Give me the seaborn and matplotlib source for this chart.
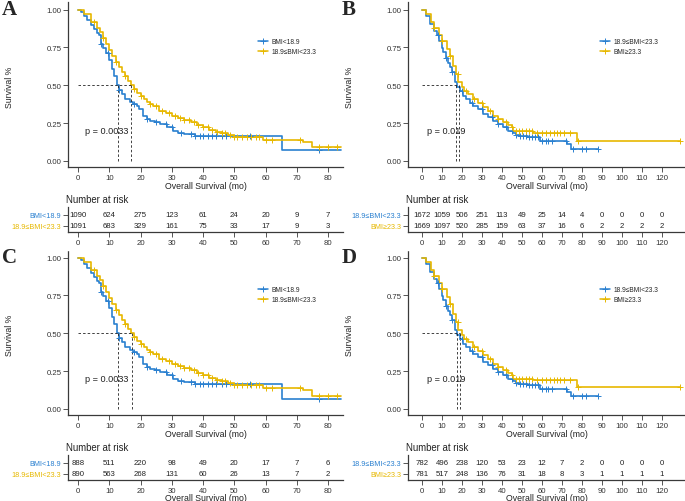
import numpy as np
import seaborn as sns
import matplotlib.pyplot as plt
from matplotlib.lines import Line2D
from matplotlib.patches import Rectangle

sns.set_style("ticks")
plt.rcParams['font.family'] = ['Liberation Sans', 'DejaVu Sans']

# ---------------- data ----------------
blue, yellow = '#2A80D0', '#E7B800'

labels_ac = ["BMI<18.9", "18.9≤BMI<23.3"]
labels_bd = ["18.9≤BMI<23.3", "BMI≥23.3"]

# panel A: step curves (time in months, survival)
a_t1 = [0, 1, 2, 3, 4, 5, 6, 6.8, 7.2, 8, 9, 10, 10.8, 11.5, 12.4, 13, 14, 15, 16.6, 17.5, 18.8,
        19.5, 20.9, 22, 23, 24.5, 26.2, 28.4, 30.5, 32, 34, 36.9, 37.4, 65.2, 84]
a_s1 = [1, 0.985, 0.96, 0.93, 0.9, 0.87, 0.845, 0.83, 0.77, 0.745, 0.71, 0.67, 0.61, 0.56, 0.50, 0.47,
        0.44, 0.41, 0.39, 0.375, 0.365, 0.34, 0.30, 0.28, 0.266, 0.255, 0.245, 0.222, 0.20, 0.183, 0.178,
        0.175, 0.167, 0.073, 0.073]
a_t2 = [0, 2, 4, 6, 7, 8, 9, 10, 11, 12, 13, 14, 15, 16, 17, 18, 19, 20, 21, 22, 23, 24, 26, 28, 30,
        32, 34, 36, 38, 40, 42, 44, 46, 48, 50, 55, 59.3, 72, 74.8, 84]
a_s2 = [1, 0.97, 0.92, 0.88, 0.85, 0.81, 0.77, 0.73, 0.69, 0.655, 0.62, 0.59, 0.56, 0.53, 0.50, 0.475,
        0.45, 0.43, 0.41, 0.39, 0.377, 0.36, 0.332, 0.315, 0.30, 0.285, 0.27, 0.256, 0.24, 0.222, 0.205,
        0.194, 0.182, 0.17, 0.16, 0.157, 0.139, 0.128, 0.09, 0.09]
a_c1 = [7.5, 9.5, 13, 18, 22, 25, 28, 30, 33, 36, 37.5, 39, 40, 41.5, 43, 44, 46, 47.5, 55, 77]
a_c2 = [5, 8, 12, 15, 18, 20, 23, 25, 27, 29, 31, 32.5, 34, 35.5, 37, 38.5, 40, 41.5, 43, 44.5, 46,
        47, 48.5, 50, 51, 52.5, 54, 55.5, 57, 58, 60, 62, 71, 77, 80, 83]
a_med = [12.7, 17.0]

# panel C (matched cohort)
c_t1 = a_t1
c_s1 = a_s1[:-2] + [0.066, 0.066]
c_t2 = a_t2
c_s2 = a_s2[:-2] + [0.085, 0.085]
c_c1 = a_c1
c_c2 = a_c2
c_med = [12.9, 17.4]

# panel B
b_t1 = [0, 2, 4, 6, 7.3, 8.5, 10, 10.7, 12, 13, 14, 15, 16.5, 17.7, 19, 20.7, 22, 24, 25.7, 28, 30.7,
        33, 35.7, 38, 40.7, 43, 45.7, 47, 49, 53, 57.8, 59, 72.3, 74.5, 88]
b_s1 = [1, 0.96, 0.905, 0.86, 0.83, 0.79, 0.745, 0.72, 0.68, 0.65, 0.62, 0.585, 0.52, 0.487, 0.46,
        0.43, 0.41, 0.385, 0.365, 0.34, 0.31, 0.29, 0.266, 0.245, 0.222, 0.2, 0.183, 0.172, 0.163, 0.158,
        0.155, 0.134, 0.113, 0.079, 0.079]
b_t2 = [0, 2, 4.5, 6, 8.7, 10, 12.3, 14, 15.7, 17, 18.2, 19.8, 21, 23, 25.7, 28, 30.7, 33, 35.7, 38,
        40.7, 43, 44.8, 45.7, 55.5, 77.7, 129]
b_s2 = [1, 0.97, 0.92, 0.88, 0.83, 0.79, 0.74, 0.69, 0.63, 0.575, 0.52, 0.487, 0.46, 0.44, 0.41, 0.38,
        0.355, 0.33, 0.30, 0.28, 0.256, 0.24, 0.222, 0.20, 0.183, 0.13, 0.13]
b_c1 = [8, 12, 15, 20, 25, 30, 35, 38, 42, 45, 47, 49, 50.5, 52, 53.5, 55, 56.5, 58, 60, 62, 63, 65,
        72, 75.5, 80, 82, 88]
b_c2 = [6, 10, 14, 18, 22, 26, 30, 34, 38, 42, 45, 47, 48.5, 50, 52, 53.5, 55, 57.5, 60, 62, 64, 66,
        67.5, 69, 71, 74, 78, 129]
b_med = [17.2, 18.3]

# panel D (matched cohort)
d_t1 = b_t1
d_s1 = b_s1[:-2] + [0.084, 0.084]
d_t2 = b_t2
d_s2 = b_s2[:-3] + [0.194, 0.146, 0.146]
d_c1 = b_c1
d_c2 = b_c2
d_med = [17.7, 19.0]

# numbers at risk
risk_t_ac = [0, 10, 20, 30, 40, 50, 60, 70, 80]
risk_t_bd = [0, 10, 20, 30, 40, 50, 60, 70, 80, 90, 100, 110, 120]
a_risk1 = [1090, 624, 275, 123, 61, 24, 20, 9, 7]
a_risk2 = [1091, 683, 329, 161, 75, 33, 17, 9, 3]
b_risk1 = [1672, 1059, 506, 251, 113, 49, 25, 14, 4, 0, 0, 0, 0]
b_risk2 = [1669, 1097, 520, 285, 159, 63, 37, 16, 6, 2, 2, 2, 2]
c_risk1 = [888, 511, 220, 98, 49, 20, 17, 7, 6]
c_risk2 = [890, 563, 268, 131, 60, 26, 13, 7, 2]
d_risk1 = [782, 496, 238, 120, 53, 23, 12, 7, 2, 0, 0, 0, 0]
d_risk2 = [781, 517, 248, 136, 76, 31, 18, 8, 3, 1, 1, 1, 1]

# ---------------- layout helpers ----------------
W, H = 685, 502
fig = plt.figure(figsize=(W / 100, H / 100), dpi=100)


def box(l, t, r, b):
    return [l / W, 1 - b / H, (r - l) / W, (b - t) / H]


def fx(px):
    return px / W


def fy(py):
    return 1 - py / H


def step_value(t, s, c):
    idx = np.searchsorted(np.asarray(t), np.asarray(c), side='right') - 1
    return np.asarray(s)[idx]


def style_axis(ax):
    sns.despine(ax=ax)
    for sp in ['left', 'bottom']:
        ax.spines[sp].set_linewidth(0.9)
        ax.spines[sp].set_color('#3a3a3a')
    ax.tick_params(length=3.3, width=0.6, pad=1.5, labelsize=5.6, color='#3a3a3a', labelcolor='#333333')


def panel(letter, left, right, dy, xlim, curves, censors, medians, pval, labels, risk_t, risks):
    ax = fig.add_axes(box(left, 3 + dy, right, 168 + dy))
    cols = [blue, yellow]
    for (t, s), col in zip(curves, cols):
        sns.lineplot(x=t, y=s, drawstyle='steps-post', estimator=None, sort=False,
                     color=col, lw=1.2, ax=ax)
    for (t, s), c, col in zip(curves, censors, cols):
        sns.scatterplot(x=c, y=step_value(t, s, c), marker='+', s=14, color=col,
                        linewidth=0.7, ax=ax, zorder=3)
    ax.plot([0, max(medians)], [0.5, 0.5], ls=(0, (3, 2.5)), color='#222222', lw=0.6)
    for m in medians:
        ax.plot([m, m], [0, 0.5], ls=(0, (3, 2.5)), color='#222222', lw=0.6)
    ax.text(2.2 if xlim[1] < 100 else 2.5, 0.2, pval, fontsize=6.6, va='center', color='#222222')
    ax.set_xlim(*xlim)
    ax.set_ylim(-0.04, 1.05)
    ax.set_yticks([0, 0.25, 0.5, 0.75, 1.0])
    ax.set_yticklabels(['0.00', '0.25', '0.50', '0.75', '1.00'])
    ax.set_xticks(risk_t)
    ax.set_xlabel('Overall Survival (mo)', fontsize=6.3, labelpad=0.5, color='#222222')
    ax.set_ylabel('')
    style_axis(ax)

    handles = [Line2D([], [], color=c, marker='+', lw=1.1, markersize=4, markeredgewidth=0.7) for c in cols]
    ax.legend(handles, labels, loc='upper left', bbox_to_anchor=(fx(right - 85), fy(39 + dy)),
              bbox_transform=fig.transFigure, frameon=False, fontsize=4.8, handlelength=1.5,
              handletextpad=0.5, labelspacing=0.45, borderpad=0, borderaxespad=0)

    fig.text(fx(left - 66), fy(10 + dy), letter, fontsize=15, fontweight='bold',
             family='Liberation Serif', va='center', ha='left')
    fig.text(fx(left - 59), fy(87 + dy), 'Survival %', rotation=90, fontsize=6.3,
             va='center', ha='center', color='#222222')

    # risk table
    fig.text(fx(left - 2), fy(200 + dy), 'Number at risk', fontsize=6.9, va='center', ha='left',
             color='#222222')
    tab = fig.add_axes(box(left, 208 + dy, right, 233 + dy))
    for i, vals in enumerate(risks):
        for t, n in zip(risk_t, vals):
            tab.text(t, i + 1, str(n), ha='center', va='center', fontsize=5.6, color='#222222')
    tab.set_xlim(*xlim)
    tab.set_ylim(2.55, 0.3)
    tab.set_yticks([1, 2])
    tab.set_yticklabels(labels)
    tab.set_xticks(risk_t)
    tab.set_xlabel('Overall Survival (mo)', fontsize=6.3, labelpad=-0.8, color='#222222')
    style_axis(tab)
    for lab, col in zip(tab.get_yticklabels(), cols):
        lab.set_color(col)
        lab.set_fontsize(5.2)
    return ax


panel('A', 68, 343, 0, (-3.2, 84.8), [(a_t1, a_s1), (a_t2, a_s2)], [a_c1, a_c2], a_med,
      'p = 0.0033', labels_ac, risk_t_ac, [a_risk1, a_risk2])
panel('B', 408, 685, 0, (-7, 131.5), [(b_t1, b_s1), (b_t2, b_s2)], [b_c1, b_c2], b_med,
      'p = 0.019', labels_bd, risk_t_bd, [b_risk1, b_risk2])

# the lower panels hide most of the upper tables' axis titles
fig.add_artist(Rectangle((0, fy(251)), 1, fy(247) - fy(251), transform=fig.transFigure,
                         color='white', zorder=1))

panel('C', 68, 343, 248, (-3.2, 84.8), [(c_t1, c_s1), (c_t2, c_s2)], [c_c1, c_c2], c_med,
      'p = 0.0033', labels_ac, risk_t_ac, [c_risk1, c_risk2])
panel('D', 408, 685, 248, (-7, 131.5), [(d_t1, d_s1), (d_t2, d_s2)], [d_c1, d_c2], d_med,
      'p = 0.019', labels_bd, risk_t_bd, [d_risk1, d_risk2])

fig.savefig('out.png', dpi=100)
